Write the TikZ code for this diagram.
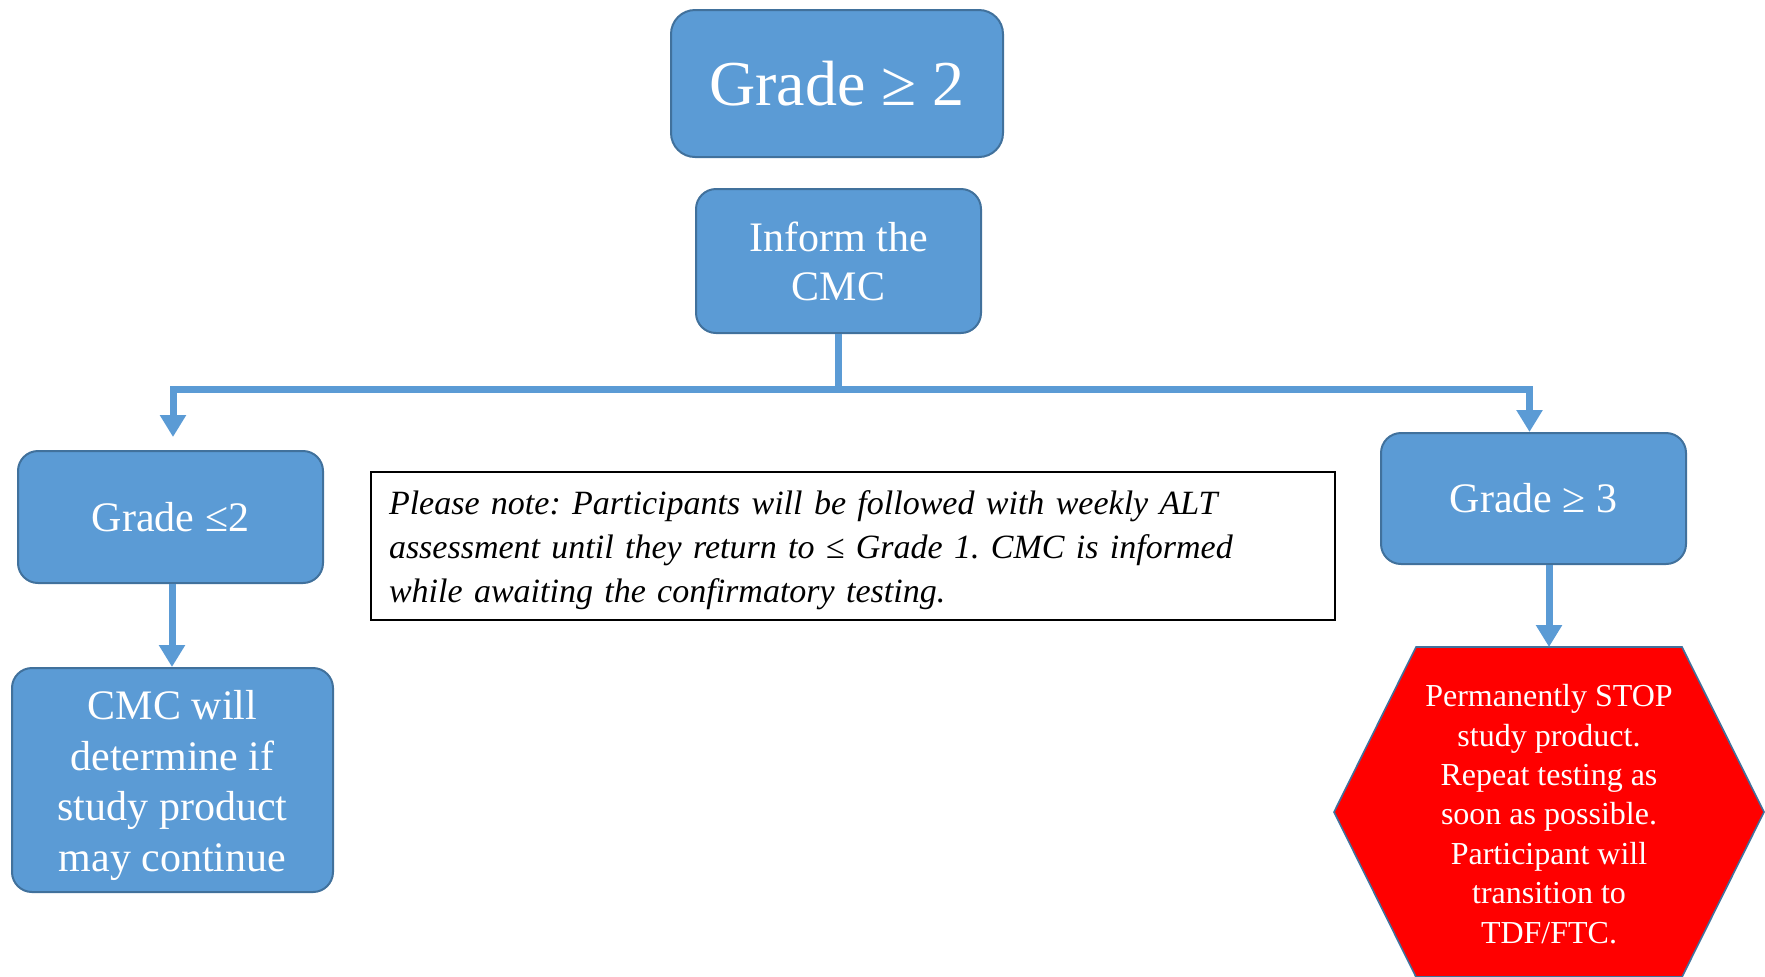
\documentclass[tikz,border=0pt]{standalone}
\usepackage{fontspec}
\setmainfont{Liberation Serif}
\usetikzlibrary{arrows.meta}
\definecolor{boxblue}{HTML}{5B9BD5}
\definecolor{edgeblue}{HTML}{41719C}
\definecolor{stopred}{HTML}{FF0000}
\frenchspacing
\begin{document}
\begin{tikzpicture}[x=0.5pt,y=-0.5pt,
  bluebox/.style={draw=edgeblue, line width=1pt, fill=boxblue, rounded corners=10pt,
    text=white, align=center, inner sep=0pt},
  bigtext/.style={font=\fontsize{32}{38}\selectfont},
  midtext/.style={font=\fontsize{21}{24.5}\selectfont},
  link/.style={draw=boxblue, line width=3.5pt},
  flow/.style={link, -{Triangle[width=12.5pt,length=11pt]}},
  notebox/.style={draw=black, line width=1pt, fill=white, align=left,
    inner xsep=9pt, inner ysep=0pt, font=\fontsize{17}{22}\selectfont\itshape},
  hextext/.style={text=white, align=center, font=\fontsize{16}{19.7}\selectfont}
]
\useasboundingbox (0,0) rectangle (1765,976);

% decision boxes
\node[bluebox, bigtext, rounded corners=12pt, minimum width=166pt, minimum height=73.5pt]
  (grade2) at (837,83.5) {Grade ≥ 2};
\node[bluebox, midtext, minimum width=142.5pt, minimum height=72pt]
  (inform) at (838.5,261) {Inform the\\CMC};
\node[bluebox, midtext, minimum width=152.5pt, minimum height=66pt]
  (low) at (170.5,517) {Grade ≤2};
\node[bluebox, midtext, font=\fontsize{21}{25.2}\selectfont, minimum width=160.5pt, minimum height=112pt]
  (cmc) at (172.5,780) {\rule{0pt}{20pt}CMC will\\determine if\\study product\\may continue};
\node[bluebox, midtext, minimum width=152.5pt, minimum height=65.5pt]
  (high) at (1533.5,498.5) {Grade ≥ 3};

% note
\node[notebox, text width=464pt, minimum height=74pt] (note) at (853,546)
  {\rule{0pt}{16pt}Please note: Participants will be followed with weekly ALT\\
   assessment until they return to ≤ Grade 1. CMC is informed\\
   while awaiting the confirmatory testing.};

% stop hexagon
\coordinate (hexc) at (1549,812);
\filldraw[fill=stopred, draw=edgeblue, line width=0.8pt]
  ([shift={(-133,-165)}]hexc) -- ([shift={(133,-165)}]hexc)
  -- ([shift={(215,0)}]hexc) -- ([shift={(133,165)}]hexc)
  -- ([shift={(-133,165)}]hexc) -- ([shift={(-215,0)}]hexc) -- cycle;
\coordinate (hextop) at ([shift={(0,-165)}]hexc);
\node[hextext] (stop) at ([yshift=-1pt]hexc)
  {Permanently STOP\\study product.\\Repeat testing as\\soon as possible.\\Participant will\\transition to\\TDF/FTC.};

% connectors
\coordinate (split) at ([yshift=-27.5pt]inform.south);
\draw[link] (inform.south) -- (split);
\draw[flow, shorten >=6.5pt] (split) -| ([xshift=1.25pt]low.north);
\draw[flow] (split) -| ([xshift=-2pt]high.north);
\draw[flow] ([xshift=0.75pt]low.south) -- ([xshift=0.75pt]low.south |- cmc.north);
\draw[flow] (high.south -| hextop) -- (hextop);
\end{tikzpicture}
\end{document}
